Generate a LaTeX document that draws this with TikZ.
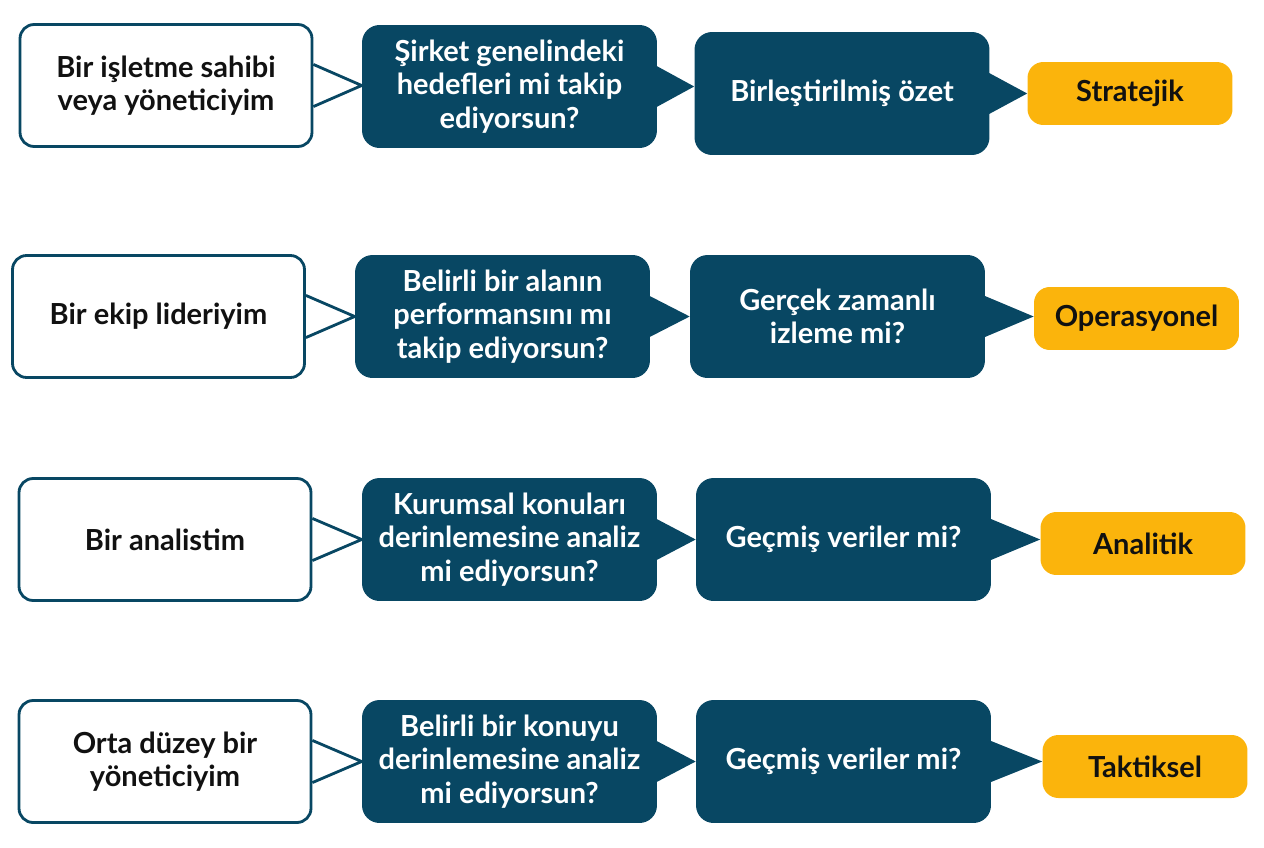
\documentclass[tikz,border=0pt]{standalone}
\usepackage{fontspec}
\setmainfont{Lato}
\definecolor{navy}{RGB}{8,71,99}
\definecolor{gold}{RGB}{251,180,12}
\definecolor{ink}{RGB}{17,17,17}
\begin{document}
\begin{tikzpicture}[x=0.02cm,y=-0.02cm]
	\tikzset{who/.style={draw=navy,line width=1.6pt,fill=white,rounded corners=8pt,
	           minimum width=5.84cm,minimum height=2.44cm,align=center,text=ink,
	           font=\fontsize{16.5}{19}\selectfont\bfseries},
	         ask/.style={fill=navy,rounded corners=10pt,minimum width=5.9cm,
	           minimum height=2.46cm,align=center,text=white,
	           font=\fontsize{16.5}{19}\selectfont\bfseries},
	         kind/.style={fill=gold,rounded corners=9pt,minimum width=4.1cm,
	           minimum height=1.26cm,text=ink,font=\fontsize{16.5}{19}\selectfont\bfseries},
	         tipw/.style={draw=navy,line width=1.6pt,line join=miter},
	         tipb/.style={fill=navy}}
	\useasboundingbox (0,0) rectangle (1264,848);
	\node[who] (w1) at (166,85.5) {Bir işletme sahibi\\veya yöneticiyim};
	\node[ask] (q1) at (509.5,86.5) {Şirket genelindeki\\hedefleri mi takip\\ediyorsun?};
	\node[ask] (r1) at (842,93.5) {Birleştirilmiş özet};
	\node[kind] (s1) at (1130,93.5) {Stratejik};
	\node[who] (w2) at (158.5,316.5) {Bir ekip lideriyim};
	\node[ask] (q2) at (502.5,316.5) {Belirli bir alanın\\performansını mı\\takip ediyorsun?};
	\node[ask] (r2) at (837.5,316.5) {Gerçek zamanlı\\izleme mi?};
	\node[kind] (s2) at (1136.5,318.5) {Operasyonel};
	\node[who] (w3) at (165,539.5) {Bir analistim};
	\node[ask] (q3) at (509.5,539.5) {Kurumsal konuları\\derinlemesine analiz\\mi ediyorsun?};
	\node[ask] (r3) at (843.5,539.5) {Geçmiş veriler mi?};
	\node[kind] (s3) at (1143,543.5) {Analitik};
	\node[who] (w4) at (165,761.5) {Orta düzey bir\\yöneticiyim};
	\node[ask] (q4) at (509.5,761.5) {Belirli bir konuyu\\derinlemesine analiz\\mi ediyorsun?};
	\node[ask] (r4) at (843.5,761.5) {Geçmiş veriler mi?};
	\node[kind] (s4) at (1145,766.5) {Taktiksel};
	\draw[tipw] ([yshift=12pt]w1.east) -- (q1.west |- w1.east) -- ([yshift=-12pt]w1.east);
	\draw[tipw] ([yshift=12pt]w2.east) -- (q2.west |- w2.east) -- ([yshift=-12pt]w2.east);
	\draw[tipw] ([yshift=12pt]w3.east) -- (q3.west |- w3.east) -- ([yshift=-12pt]w3.east);
	\draw[tipw] ([yshift=12pt]w4.east) -- (q4.west |- w4.east) -- ([yshift=-12pt]w4.east);
	\fill[tipb] ([xshift=-1pt,yshift=12pt]q1.east) -- (r1.west |- q1.east) -- ([xshift=-1pt,yshift=-12pt]q1.east) -- cycle;
	\fill[tipb] ([xshift=-1pt,yshift=12pt]q2.east) -- (r2.west |- q2.east) -- ([xshift=-1pt,yshift=-12pt]q2.east) -- cycle;
	\fill[tipb] ([xshift=-1pt,yshift=12pt]q3.east) -- (r3.west |- q3.east) -- ([xshift=-1pt,yshift=-12pt]q3.east) -- cycle;
	\fill[tipb] ([xshift=-1pt,yshift=12pt]q4.east) -- (r4.west |- q4.east) -- ([xshift=-1pt,yshift=-12pt]q4.east) -- cycle;
	\fill[tipb] ([xshift=-1pt,yshift=12pt]r1.east) -- (s1.west |- r1.east) -- ([xshift=-1pt,yshift=-12pt]r1.east) -- cycle;
	\fill[tipb] ([xshift=-1pt,yshift=12pt]r2.east) -- (s2.west |- r2.east) -- ([xshift=-1pt,yshift=-12pt]r2.east) -- cycle;
	\fill[tipb] ([xshift=-1pt,yshift=12pt]r3.east) -- (s3.west |- r3.east) -- ([xshift=-1pt,yshift=-12pt]r3.east) -- cycle;
	\fill[tipb] ([xshift=-1pt,yshift=12pt]r4.east) -- (s4.west |- r4.east) -- ([xshift=-1pt,yshift=-12pt]r4.east) -- cycle;
\end{tikzpicture}
\end{document}
